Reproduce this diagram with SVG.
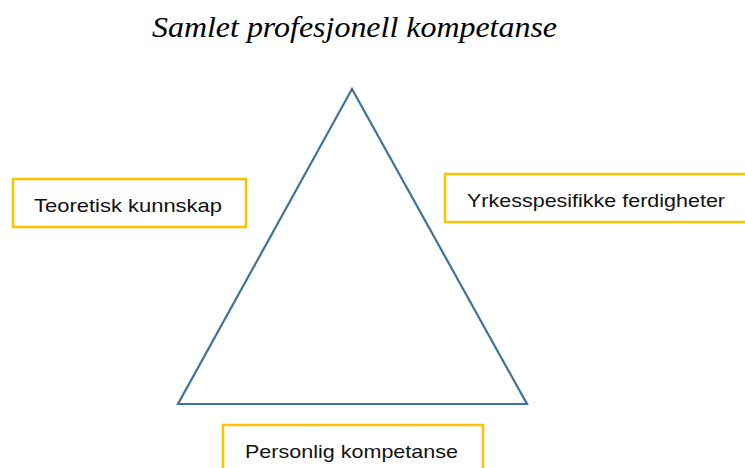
<svg xmlns="http://www.w3.org/2000/svg" width="745" height="468" viewBox="0 0 745 468">
<style>
.box{fill:#fff;stroke:#FFC000;stroke-width:2.5}
.lbl{font-family:"Liberation Sans",Arial,sans-serif;font-size:19px;fill:#111}
.title{font-family:"Liberation Serif",serif;font-style:italic;font-size:29px;fill:#000}
.tri{fill:none;stroke:#41719C;stroke-width:2.2;stroke-linejoin:miter}
</style>
<rect width="745" height="468" fill="#fff"/>
<text class="title" x="152" y="37" textLength="405" lengthAdjust="spacingAndGlyphs">Samlet profesjonell kompetanse</text>
<g id="connectors">
<polygon class="tri" points="352,89 178,404 527,404"/>
</g>
<g id="teoretisk">
<rect class="box" x="13" y="179" width="233" height="48"/>
<text class="lbl" x="34" y="212" textLength="188" lengthAdjust="spacingAndGlyphs">Teoretisk kunnskap</text>
</g>
<g id="yrkes">
<rect class="box" x="445" y="174" width="310" height="48"/>
<text class="lbl" x="467" y="207" textLength="258" lengthAdjust="spacingAndGlyphs">Yrkesspesifikke ferdigheter</text>
</g>
<g id="personlig">
<rect class="box" x="223" y="425" width="260" height="60"/>
<text class="lbl" x="245" y="458" textLength="213" lengthAdjust="spacingAndGlyphs">Personlig kompetanse</text>
</g>
</svg>
